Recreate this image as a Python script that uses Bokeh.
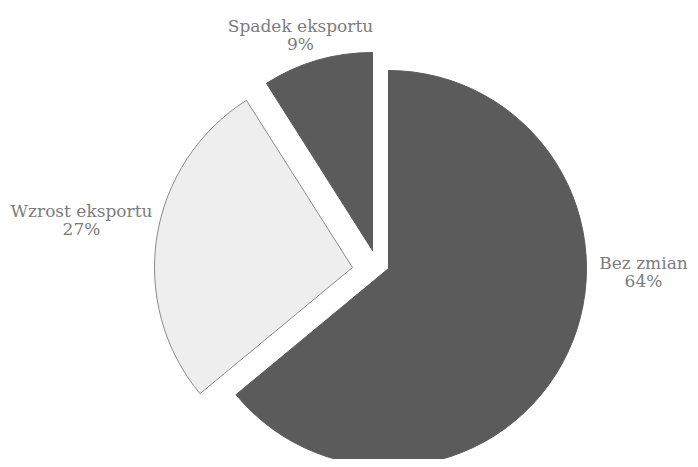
import math
from bokeh.plotting import figure
from bokeh.models import ColumnDataSource, Range1d
from bokeh.core.properties import value
from bokeh.embed import file_html
from bokeh.resources import INLINE

# data
categories = ["Bez zmian", "Wzrost eksportu", "Spadek eksportu"]
shares = [64, 27, 9]

# styles / layout
W, H = 690, 459
fills = ["#5b5b5b", "#eeeeee", "#5b5b5b"]
lines = ["#5b5b5b", "#8a8a8a", "#5b5b5b"]
cx, cy, R = 388, 191, 198
explode = [(0, 0), (-36, 1), (-16, 18)]
label_pos = [(643, 188), (81, 240), (300, 425)]

p = figure(width=W, height=H, output_backend="svg", toolbar_location=None,
           x_range=Range1d(0, W), y_range=Range1d(0, H), min_border=0)
p.axis.visible = False
p.grid.visible = False
p.outline_line_color = None

total = sum(shares)
ang = math.pi / 2
starts, ends = [], []
for s in shares:
    a2 = ang
    a1 = ang - s / total * 2 * math.pi
    starts.append(a1)
    ends.append(a2)
    ang = a1

src = ColumnDataSource(dict(
    x=[cx + e[0] for e in explode],
    y=[cy + e[1] for e in explode],
    start=starts, end=ends, fill=fills, line=lines,
))
p.wedge(x="x", y="y", radius=R, start_angle="start", end_angle="end",
        fill_color="fill", line_color="line", line_width=1, source=src)

tx, ty, tt = [], [], []
for (lx, ly), c, s in zip(label_pos, categories, shares):
    tx += [lx, lx]
    ty += [ly + 9, ly - 9]
    tt += [c, f"{s}%"]
p.text(x=tx, y=ty, text=tt, text_align="center", text_baseline="middle",
       text_font=value("DejaVu Serif"), text_font_size="17px", text_color="#7c7c7c")

open("out.html", "w").write(file_html(p, INLINE))
